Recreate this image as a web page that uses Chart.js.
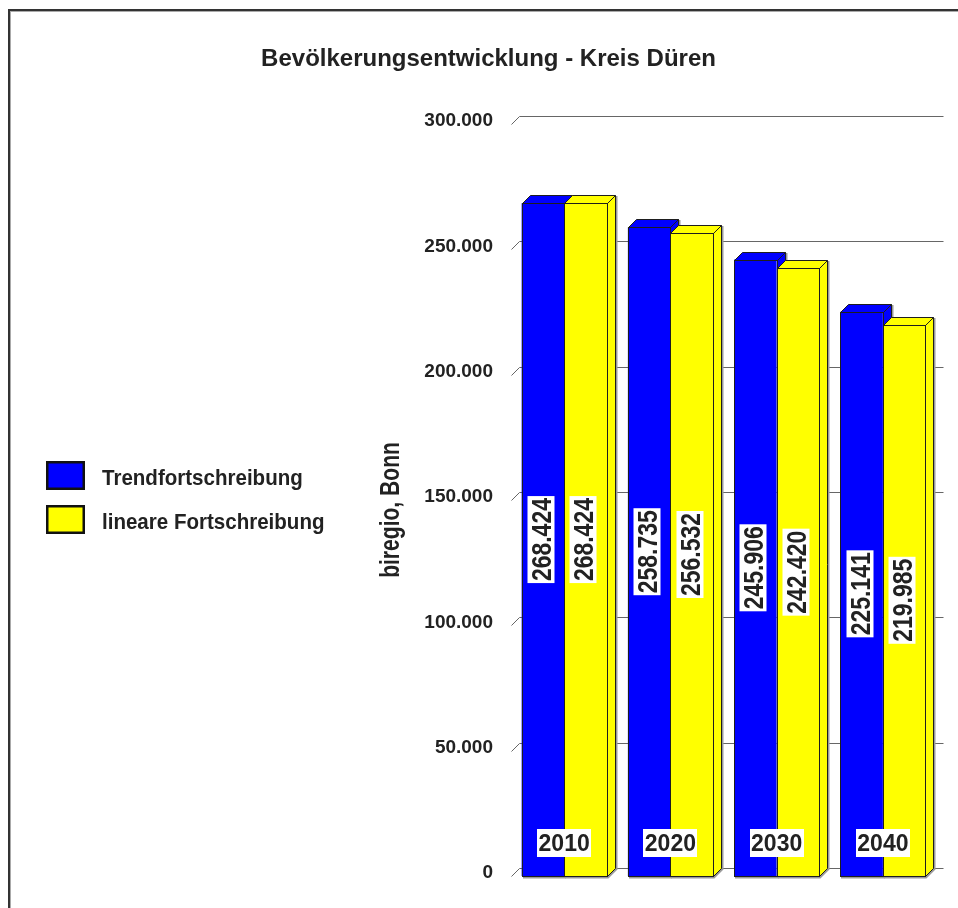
<!DOCTYPE html>
<html><head><meta charset="utf-8">
<script src="https://cdn.jsdelivr.net/npm/chart.js@4.4.1/dist/chart.umd.min.js"></script>
<style>html,body{margin:0;padding:0;background:#fff}canvas{display:block}</style>
</head><body>
<canvas id="c" width="958" height="908"></canvas>
<script>
const chartTitle = 'Bevölkerungsentwicklung - Kreis Düren';
const yAxisTitle = 'biregio, Bonn';
const categories = ['2010', '2020', '2030', '2040'];
const seriesNames = ['Trendfortschreibung', 'lineare Fortschreibung'];
const trendValues = [268424, 258735, 245906, 225141];
const linearValues = [268424, 256532, 242420, 219985];
const seriesColors = ['#0000ff', '#ffff00'];
const yTickValues = [0, 50000, 100000, 150000, 200000, 250000, 300000];
const yTickLabels = ['0', '50.000', '100.000', '150.000', '200.000', '250.000', '300.000'];

const FONT = '"Liberation Sans", Arial, sans-serif';
const TXT = '#222222';
const DEPTH = 8;

function fmt(v) { return String(Math.round(v)).replace(/\B(?=(\d{3})+(?!\d))/g, '.'); }

function drawBar3D(ctx, bar, color, withFront) {
  const x0 = Math.round(bar.x - bar.width / 2), x1 = Math.round(bar.x + bar.width / 2);
  const yt = Math.round(bar.y), yb = Math.round(bar.base);
  // shadow
  ctx.strokeStyle = '#9a9a9a';
  ctx.lineWidth = 2;
  ctx.beginPath();
  ctx.moveTo(x0 + 1, yb + 1.5);
  ctx.lineTo(x1 + 1, yb + 1.5);
  ctx.lineTo(x1 + DEPTH + 1.5, yb - DEPTH + 1);
  ctx.lineTo(x1 + DEPTH + 1.5, yt - DEPTH + 1);
  ctx.stroke();
  ctx.lineWidth = 1;
  ctx.fillStyle = color;
  ctx.strokeStyle = '#1e1e1e';
  if (withFront) {
    ctx.fillRect(x0, yt, x1 - x0, yb - yt);
  }
  // top face
  ctx.beginPath();
  ctx.moveTo(x0 + 0.5, yt + 0.5);
  ctx.lineTo(x0 + DEPTH + 0.5, yt - DEPTH + 0.5);
  ctx.lineTo(x1 + DEPTH + 0.5, yt - DEPTH + 0.5);
  ctx.lineTo(x1 + 0.5, yt + 0.5);
  ctx.closePath();
  ctx.fill(); ctx.stroke();
  // side face
  ctx.beginPath();
  ctx.moveTo(x1 + 0.5, yt + 0.5);
  ctx.lineTo(x1 + DEPTH + 0.5, yt - DEPTH + 0.5);
  ctx.lineTo(x1 + DEPTH + 0.5, yb - DEPTH + 0.5);
  ctx.lineTo(x1 + 0.5, yb + 0.5);
  ctx.closePath();
  ctx.fill(); ctx.stroke();
  // front face outline
  ctx.strokeRect(x0 + 0.5, yt + 0.5, x1 - x0, yb - yt);
}

const deco = {
  id: 'deco',
  beforeDraw(chart) {
    const ctx = chart.ctx;
    ctx.save();
    ctx.fillStyle = '#ffffff';
    ctx.fillRect(0, 0, chart.width, chart.height);
    // frame
    ctx.fillStyle = '#333333';
    ctx.fillRect(8, 9, chart.width - 8, 2);
    ctx.fillRect(8, 9, 2, chart.height - 9);
    ctx.fillStyle = '#aaaaaa';
    ctx.fillRect(10, 11, chart.width - 10, 1);
    ctx.fillRect(10, 11, 1, chart.height - 11);
    // title
    ctx.fillStyle = TXT;
    ctx.font = 'bold 24px ' + FONT;
    ctx.textAlign = 'center';
    ctx.textBaseline = 'alphabetic';
    ctx.fillText(chartTitle, 488.5, 66);
    // legend
    const ds = chart.data.datasets;
    const ly = [461, 505];
    const lb = [485, 529];
    ds.forEach((d, i) => {
      ctx.fillStyle = '#111111';
      ctx.fillRect(46, ly[i], 39, 29);
      ctx.fillStyle = d.backgroundColor;
      ctx.fillRect(48.5, ly[i] + 2.5, 34, 24);
      ctx.save();
      ctx.fillStyle = TXT;
      ctx.font = 'bold 21.5px ' + FONT;
      ctx.textAlign = 'left';
      ctx.textBaseline = 'alphabetic';
      ctx.translate(102, lb[i]);
      ctx.scale(0.955, 1);
      ctx.fillText(d.label, 0, 0);
      ctx.restore();
    });
    // y axis title
    const ys = chart.scales.y;
    ctx.save();
    ctx.fillStyle = TXT;
    ctx.font = 'bold 27px ' + FONT;
    ctx.textAlign = 'center';
    ctx.textBaseline = 'alphabetic';
    ctx.translate(399, (ys.top + ys.bottom) / 2 + 10);
    ctx.rotate(-Math.PI / 2);
    ctx.scale(0.78, 1);
    ctx.fillText(yAxisTitle, 0, 0);
    ctx.restore();
    ctx.restore();
  },
  beforeDatasetsDraw(chart) {
    const ctx = chart.ctx, ys = chart.scales.y, area = chart.chartArea;
    ctx.save();
    ctx.strokeStyle = '#666666';
    ctx.lineWidth = 1;
    ys.ticks.forEach(t => {
      const fy = Math.round(ys.getPixelForValue(t.value));
      ctx.beginPath();
      ctx.moveTo(area.left + 0.5, fy + 0.5);
      ctx.lineTo(area.left + DEPTH + 0.5, fy - DEPTH + 0.5);
      ctx.lineTo(area.right + DEPTH - 0.5, fy - DEPTH + 0.5);
      ctx.stroke();
    });
    ctx.restore();
  },
  afterDatasetsDraw(chart) {
    const ctx = chart.ctx;
    ctx.save();
    // 3D faces: first series behind, second series in front
    chart.data.datasets.forEach((d, di) => {
      chart.getDatasetMeta(di).data.forEach(bar => drawBar3D(ctx, bar, d.backgroundColor, di > 0));
    });
    // value labels
    chart.data.datasets.forEach((d, di) => {
      chart.getDatasetMeta(di).data.forEach((bar, i) => {
        const txt = fmt(d.data[i]);
        ctx.font = 'bold 28px ' + FONT;
        const sc = 0.82;
        const w = ctx.measureText(txt).width * sc;
        const L = w + 4;
        ctx.save();
        ctx.translate(Math.round(bar.x) - 2, (bar.y + bar.base) / 2);
        ctx.rotate(-Math.PI / 2);
        ctx.fillStyle = '#ffffff';
        ctx.fillRect(-L / 2, -13.5, L, 27);
        ctx.scale(sc, 1);
        ctx.fillStyle = TXT;
        ctx.textAlign = 'center';
        ctx.textBaseline = 'alphabetic';
        ctx.fillText(txt, 0, 10);
        ctx.restore();
      });
    });
    // category labels
    const xs = chart.scales.x, ys = chart.scales.y;
    const base = ys.getPixelForValue(0);
    ctx.font = 'bold 23px ' + FONT;
    ctx.textAlign = 'center';
    ctx.textBaseline = 'alphabetic';
    chart.data.labels.forEach((lab, i) => {
      const cx = xs.getPixelForValue(i);
      ctx.fillStyle = '#ffffff';
      ctx.fillRect(Math.round(cx) - 27, base - 47, 54, 28);
      ctx.fillStyle = TXT;
      ctx.fillText(lab, cx, base - 25);
    });
    ctx.restore();
  }
};

new Chart(document.getElementById('c'), {
  type: 'bar',
  data: {
    labels: categories,
    datasets: [
      { label: seriesNames[0], data: trendValues, backgroundColor: seriesColors[0], borderColor: '#1e1e1e', borderWidth: 0 },
      { label: seriesNames[1], data: linearValues, backgroundColor: seriesColors[1], borderColor: '#1e1e1e', borderWidth: 0 }
    ]
  },
  options: {
    responsive: false,
    devicePixelRatio: 1,
    animation: false,
    layout: { padding: { left: 375, right: 22, top: 124, bottom: 32 } },
    datasets: { bar: { categoryPercentage: 0.8, barPercentage: 1.0 } },
    plugins: { legend: { display: false }, title: { display: false }, tooltip: { enabled: false } },
    scales: {
      x: { display: false },
      y: {
        min: 0, max: 300000,
        afterFit(scale) { scale.width = 136; },
        afterBuildTicks(scale) { scale.ticks = yTickValues.map(v => ({ value: v })); },
        grid: { display: false, drawTicks: false, tickLength: 0 },
        border: { display: false },
        ticks: {
          padding: 18,
          labelOffset: -3,
          color: TXT,
          font: { family: FONT, weight: 'bold', size: 19 },
          callback: (v) => yTickLabels[yTickValues.indexOf(v)]
        }
      }
    }
  },
  plugins: [deco]
});
</script>
</body></html>
